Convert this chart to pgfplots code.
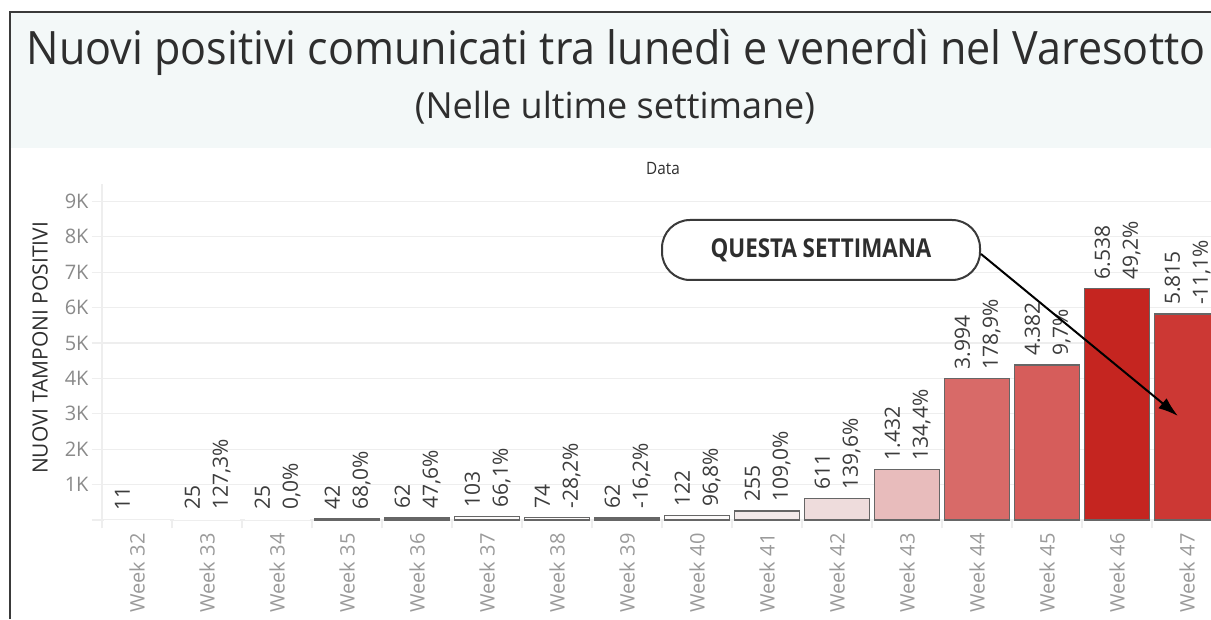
\documentclass[border=0pt]{standalone}
\usepackage{pgfplots}
\pgfplotsset{compat=1.18}
\usepackage{fontspec}
\setmainfont{Open Sans}
\usepackage{graphicx}
\usetikzlibrary{arrows.meta}
\definecolor{band}{HTML}{F3F8F8}
\definecolor{framec}{HTML}{3A3A3A}
\definecolor{gridc}{HTML}{EEEEEE}
\definecolor{tickc}{HTML}{8A8A8A}
\definecolor{weekc}{HTML}{9A9A9A}
\definecolor{labc}{HTML}{3C3C3C}
\definecolor{titlec}{HTML}{2E2E2E}
\definecolor{bedge}{HTML}{666666}
\definecolor{c35}{HTML}{FCFAFA}
\definecolor{c41}{HTML}{F3EAEA}
\definecolor{c42}{HTML}{EEDCDC}
\definecolor{c43}{HTML}{E8BCBC}
\definecolor{c44}{HTML}{D86A68}
\definecolor{c45}{HTML}{D65D5B}
\definecolor{c46}{HTML}{C52520}
\definecolor{c47}{HTML}{CC3834}
\begin{document}
\begin{tikzpicture}[x=1pt,y=1pt]
\useasboundingbox (0,0) rectangle (1211,619);
\clip (0,0) rectangle (1211,619);
\fill[white] (0,0) rectangle (1211,619);
\fill[band] (10,471) rectangle (1211,606);
\draw[framec, line width=2pt] (10,0) -- (10,607) -- (1212,607);
\node[anchor=base, text=titlec, inner sep=0pt] at (616,554) {\fontsize{46}{46}\selectfont\scalebox{0.936}[1]{Nuovi positivi comunicati tra lunedì e venerdì nel Varesotto}};
\node[anchor=base, text=titlec, inner sep=0pt] at (615,500) {\fontsize{36}{36}\selectfont\scalebox{1.0}[1]{(Nelle ultime settimane)}};
\node[anchor=base, text=titlec, inner sep=0pt] at (663,444) {\fontsize{17}{17}\selectfont\scalebox{0.9}[1]{Data}};
\node[rotate=90, text=titlec, inner sep=0pt] at (40,271) {\fontsize{21}{21}\selectfont NUOVI TAMPONI POSITIVI};
\begin{axis}[
  at={(102pt,99pt)}, anchor=south west,
  scale only axis, width=1190pt, height=336.3pt,
  xmin=-0.5, xmax=16.5, ymin=0, ymax=9500,
  axis lines*=left,
  axis line style={draw=gridc, line width=1.2pt, -},
  ytick={0,1000,...,9000},
  yticklabels={,1K,2K,3K,4K,5K,6K,7K,8K,9K},
  ymajorgrids, grid style={draw=gridc, line width=1.2pt},
  tick align=outside, major tick length=10pt,
  ytick style={draw=gridc, line width=1.2pt},
  yticklabel style={font=\fontsize{20}{20}\selectfont, text=tickc},
  xtick={0,...,15},
  xticklabels={Week 32,Week 33,Week 34,Week 35,Week 36,Week 37,Week 38,Week 39,Week 40,Week 41,Week 42,Week 43,Week 44,Week 45,Week 46,Week 47},
  xtick style={draw=none},
  xticklabel style={rotate=90, anchor=east, font=\fontsize{20}{20}\selectfont, text=weekc},
  extra x ticks={-0.5,0.5,...,15.5},
  extra x tick labels={},
  extra x tick style={xtick style={draw=gridc, line width=1.2pt}, major tick length=8pt},
  clip=false,
]
\addplot[ybar, bar width=65pt, bar shift=0pt, fill=white, draw=none] coordinates {(0,11)};
\addplot[ybar, bar width=65pt, bar shift=0pt, fill=white, draw=none] coordinates {(1,25)};
\addplot[ybar, bar width=65pt, bar shift=0pt, fill=white, draw=none] coordinates {(2,25)};
\addplot[ybar, bar width=65pt, bar shift=0pt, fill=c35, draw=bedge, line width=1.5pt] coordinates {(3,42)};
\addplot[ybar, bar width=65pt, bar shift=0pt, fill=c35, draw=bedge, line width=1.5pt] coordinates {(4,62)};
\addplot[ybar, bar width=65pt, bar shift=0pt, fill=c35, draw=bedge, line width=1.5pt] coordinates {(5,103)};
\addplot[ybar, bar width=65pt, bar shift=0pt, fill=c35, draw=bedge, line width=1.5pt] coordinates {(6,74)};
\addplot[ybar, bar width=65pt, bar shift=0pt, fill=c35, draw=bedge, line width=1.5pt] coordinates {(7,62)};
\addplot[ybar, bar width=65pt, bar shift=0pt, fill=c35, draw=bedge, line width=1.5pt] coordinates {(8,122)};
\addplot[ybar, bar width=65pt, bar shift=0pt, fill=c41, draw=bedge, line width=1.5pt] coordinates {(9,255)};
\addplot[ybar, bar width=65pt, bar shift=0pt, fill=c42, draw=bedge, line width=1.5pt] coordinates {(10,611)};
\addplot[ybar, bar width=65pt, bar shift=0pt, fill=c43, draw=bedge, line width=1.5pt] coordinates {(11,1432)};
\addplot[ybar, bar width=65pt, bar shift=0pt, fill=c44, draw=bedge, line width=1.5pt] coordinates {(12,3994)};
\addplot[ybar, bar width=65pt, bar shift=0pt, fill=c45, draw=bedge, line width=1.5pt] coordinates {(13,4382)};
\addplot[ybar, bar width=65pt, bar shift=0pt, fill=c46, draw=bedge, line width=1.5pt] coordinates {(14,6538)};
\addplot[ybar, bar width=65pt, bar shift=0pt, fill=c47, draw=bedge, line width=1.5pt] coordinates {(15,5815)};
% value labels
\addplot[draw=none, mark=none, nodes near coords, point meta=explicit symbolic,
  every node near coord/.style={rotate=90, anchor=west, inner xsep=9pt, inner ysep=0pt, font=\fontsize{21}{21}\selectfont, text=labc}]
  coordinates {(-0.21,11)[11] (0.79,25)[25] (1.79,25)[25] (2.79,42)[42] (3.79,62)[62] (4.79,103)[103] (5.79,74)[74] (6.79,62)[62] (7.79,122)[122] (8.79,255)[255] (9.79,611)[611] (10.79,1432)[1.432] (11.79,3994)[3.994] (12.79,4382)[4.382] (13.79,6538)[6.538] (14.79,5815)[5.815]};
% percent labels
\addplot[draw=none, mark=none, nodes near coords, point meta=explicit symbolic,
  every node near coord/.style={rotate=90, anchor=west, inner xsep=9pt, inner ysep=0pt, font=\fontsize{21}{21}\selectfont, text=labc}]
  coordinates {(1.21,25)[127,3\%] (2.21,25)[0,0\%] (3.21,42)[68,0\%] (4.21,62)[47,6\%] (5.21,103)[66,1\%] (6.21,74)[-28,2\%] (7.21,62)[-16,2\%] (8.21,122)[96,8\%] (9.21,255)[109,0\%] (10.21,611)[139,6\%] (11.21,1432)[134,4\%] (12.21,3994)[178,9\%] (13.21,4382)[9,7\%] (14.21,6538)[49,2\%] (15.21,5815)[-11,1\%]};
\end{axis}
\node[draw=framec, line width=2pt, fill=white, rounded corners=28pt, minimum width=318pt, minimum height=60pt, text=titlec] at (821,369) {\fontsize{26}{26}\selectfont\scalebox{0.86}[1]{\bfseries QUESTA SETTIMANA}};
\draw[black, line width=2pt, -{Latex[length=20pt,width=13pt]}] (981,365) -- (1178,203);
\end{tikzpicture}
\end{document}
